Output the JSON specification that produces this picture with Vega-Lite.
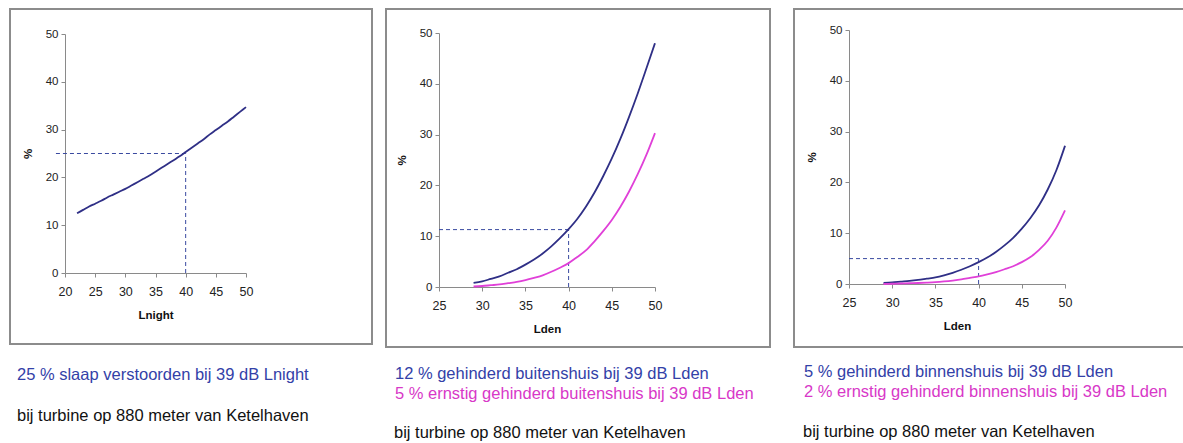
{
  "$schema": "https://vega.github.io/schema/vega-lite/v6.json",
  "padding": {"left": 9, "top": 8, "right": 0, "bottom": 0},
  "background": "white",
  "config": {
    "font": "Liberation Sans",
    "view": {"stroke": "#8c8c8c", "strokeWidth": 2},
    "axis": {"grid": false, "domainColor": "#8a8a8a", "tickColor": "#8a8a8a", "labelColor": "#222222", "titleColor": "#111111", "labelFont": "Liberation Sans", "titleFont": "Liberation Sans", "titleFontWeight": "bold", "titleFontSize": 11.5, "tickSize": 4, "labelFlush": false},
    "axisX": {"labelFontSize": 12.5, "labelPadding": 8, "titlePadding": 12},
    "axisY": {"labelFontSize": 11.5, "labelPadding": 3, "titlePadding": 12},
    "title": {"font": "Liberation Sans", "fontSize": 16.5, "fontWeight": "normal", "subtitleFont": "Liberation Sans", "subtitleFontSize": 16.5, "orient": "bottom", "anchor": "start"}
  },
  "datasets": {
    "p1": [
      {"x": 22, "y": 12.5, "s": "a"}, {"x": 23, "y": 13.2, "s": "a"}, {"x": 24, "y": 13.9, "s": "a"}, {"x": 25, "y": 14.5, "s": "a"}, {"x": 26, "y": 15.1, "s": "a"}, {"x": 27, "y": 15.8, "s": "a"}, {"x": 28, "y": 16.4, "s": "a"}, {"x": 29, "y": 17.0, "s": "a"}, {"x": 30, "y": 17.6, "s": "a"}, {"x": 31, "y": 18.3, "s": "a"}, {"x": 32, "y": 19.0, "s": "a"}, {"x": 33, "y": 19.7, "s": "a"}, {"x": 34, "y": 20.4, "s": "a"}, {"x": 35, "y": 21.2, "s": "a"}, {"x": 36, "y": 22.0, "s": "a"}, {"x": 37, "y": 22.8, "s": "a"}, {"x": 38, "y": 23.6, "s": "a"}, {"x": 39, "y": 24.4, "s": "a"}, {"x": 40, "y": 25.3, "s": "a"}, {"x": 41, "y": 26.2, "s": "a"}, {"x": 42, "y": 27.1, "s": "a"}, {"x": 43, "y": 28.0, "s": "a"}, {"x": 44, "y": 29.0, "s": "a"}, {"x": 45, "y": 29.9, "s": "a"}, {"x": 46, "y": 30.8, "s": "a"}, {"x": 47, "y": 31.7, "s": "a"}, {"x": 48, "y": 32.7, "s": "a"}, {"x": 49, "y": 33.7, "s": "a"}, {"x": 50, "y": 34.7, "s": "a"}
    ],
    "p2": [
      {"x": 29, "y": 0.8, "s": "a"}, {"x": 30, "y": 1.1, "s": "a"}, {"x": 31, "y": 1.6, "s": "a"}, {"x": 32, "y": 2.1, "s": "a"}, {"x": 33, "y": 2.8, "s": "a"}, {"x": 34, "y": 3.5, "s": "a"}, {"x": 35, "y": 4.4, "s": "a"}, {"x": 36, "y": 5.4, "s": "a"}, {"x": 37, "y": 6.6, "s": "a"}, {"x": 38, "y": 8.0, "s": "a"}, {"x": 39, "y": 9.6, "s": "a"}, {"x": 40, "y": 11.4, "s": "a"}, {"x": 41, "y": 13.4, "s": "a"}, {"x": 42, "y": 15.8, "s": "a"}, {"x": 43, "y": 18.6, "s": "a"}, {"x": 44, "y": 21.8, "s": "a"}, {"x": 45, "y": 25.3, "s": "a"}, {"x": 46, "y": 29.2, "s": "a"}, {"x": 47, "y": 33.5, "s": "a"}, {"x": 48, "y": 38.1, "s": "a"}, {"x": 49, "y": 43.0, "s": "a"}, {"x": 50, "y": 48.0, "s": "a"},
      {"x": 29, "y": 0.1, "s": "b"}, {"x": 30, "y": 0.2, "s": "b"}, {"x": 31, "y": 0.35, "s": "b"}, {"x": 32, "y": 0.5, "s": "b"}, {"x": 33, "y": 0.75, "s": "b"}, {"x": 34, "y": 1.0, "s": "b"}, {"x": 35, "y": 1.35, "s": "b"}, {"x": 36, "y": 1.8, "s": "b"}, {"x": 37, "y": 2.3, "s": "b"}, {"x": 38, "y": 3.0, "s": "b"}, {"x": 39, "y": 3.8, "s": "b"}, {"x": 40, "y": 4.7, "s": "b"}, {"x": 41, "y": 5.9, "s": "b"}, {"x": 42, "y": 7.2, "s": "b"}, {"x": 43, "y": 9.0, "s": "b"}, {"x": 44, "y": 11.0, "s": "b"}, {"x": 45, "y": 13.2, "s": "b"}, {"x": 46, "y": 15.8, "s": "b"}, {"x": 47, "y": 18.8, "s": "b"}, {"x": 48, "y": 22.2, "s": "b"}, {"x": 49, "y": 26.0, "s": "b"}, {"x": 50, "y": 30.3, "s": "b"}
    ],
    "p3": [
      {"x": 29, "y": 0.2, "s": "a"}, {"x": 30, "y": 0.3, "s": "a"}, {"x": 31, "y": 0.45, "s": "a"}, {"x": 32, "y": 0.6, "s": "a"}, {"x": 33, "y": 0.8, "s": "a"}, {"x": 34, "y": 1.05, "s": "a"}, {"x": 35, "y": 1.3, "s": "a"}, {"x": 36, "y": 1.7, "s": "a"}, {"x": 37, "y": 2.2, "s": "a"}, {"x": 38, "y": 2.8, "s": "a"}, {"x": 39, "y": 3.5, "s": "a"}, {"x": 40, "y": 4.3, "s": "a"}, {"x": 41, "y": 5.2, "s": "a"}, {"x": 42, "y": 6.3, "s": "a"}, {"x": 43, "y": 7.6, "s": "a"}, {"x": 44, "y": 9.1, "s": "a"}, {"x": 45, "y": 10.9, "s": "a"}, {"x": 46, "y": 13.0, "s": "a"}, {"x": 47, "y": 15.5, "s": "a"}, {"x": 48, "y": 18.6, "s": "a"}, {"x": 49, "y": 22.4, "s": "a"}, {"x": 50, "y": 27.2, "s": "a"},
      {"x": 29, "y": 0.0, "s": "b"}, {"x": 30, "y": 0.05, "s": "b"}, {"x": 31, "y": 0.1, "s": "b"}, {"x": 32, "y": 0.15, "s": "b"}, {"x": 33, "y": 0.2, "s": "b"}, {"x": 34, "y": 0.27, "s": "b"}, {"x": 35, "y": 0.36, "s": "b"}, {"x": 36, "y": 0.5, "s": "b"}, {"x": 37, "y": 0.68, "s": "b"}, {"x": 38, "y": 0.9, "s": "b"}, {"x": 39, "y": 1.2, "s": "b"}, {"x": 40, "y": 1.5, "s": "b"}, {"x": 41, "y": 1.9, "s": "b"}, {"x": 42, "y": 2.35, "s": "b"}, {"x": 43, "y": 2.9, "s": "b"}, {"x": 44, "y": 3.5, "s": "b"}, {"x": 45, "y": 4.3, "s": "b"}, {"x": 46, "y": 5.3, "s": "b"}, {"x": 47, "y": 6.7, "s": "b"}, {"x": 48, "y": 8.5, "s": "b"}, {"x": 49, "y": 11.1, "s": "b"}, {"x": 50, "y": 14.5, "s": "b"}
    ],
    "g1": [{"x": 18.5, "x2": 40, "y": 25, "y2": 25}, {"x": 40, "x2": 40, "y": 0, "y2": 25}],
    "g2": [{"x": 25, "x2": 40, "y": 11.3, "y2": 11.3}, {"x": 40, "x2": 40, "y": 0, "y2": 11.3}],
    "g3": [{"x": 25, "x2": 40, "y": 5, "y2": 5}, {"x": 40, "x2": 40, "y": 0, "y2": 5}]
  },
  "spacing": 22,
  "resolve": {"scale": {"x": "independent", "y": "independent", "color": "independent"}},
  "hconcat": [
    {
      "spacing": 12,
      "resolve": {"scale": {"x": "independent", "y": "independent", "color": "independent"}},
      "hconcat": [
        {
          "width": 362, "height": 335,
          "title": {"text": "25 % slaap verstoorden bij 39 dB Lnight", "subtitle": "bij turbine op 880 meter van Ketelhaven", "color": "#3341a8", "subtitleColor": "#111111", "offset": 23, "subtitlePadding": 24, "dx": 7},
          "encoding": {
            "x": {"field": "x", "type": "quantitative", "title": "Lnight", "scale": {"domain": [20, 50], "range": [55, 236], "nice": false, "zero": false}, "axis": {"values": [20, 25, 30, 35, 40, 45, 50], "offset": -71}},
            "y": {"field": "y", "type": "quantitative", "title": "%", "scale": {"domain": [0, 50], "range": [264, 25], "nice": false}, "axis": {"values": [0, 10, 20, 30, 40, 50], "offset": -55}}
          },
          "layer": [
            {"data": {"name": "g1"}, "mark": {"type": "rule", "color": "#3a4aa0", "strokeWidth": 1, "strokeDash": [4, 3]}, "encoding": {"x2": {"field": "x2"}, "y2": {"field": "y2"}}},
            {"data": {"name": "p1"}, "mark": {"type": "line", "strokeWidth": 1.8, "interpolate": "monotone"}, "encoding": {"color": {"field": "s", "type": "nominal", "legend": null, "scale": {"domain": ["a", "b"], "range": ["#2f2f86", "#e040d8"]}}}}
          ]
        },
        {
          "title": {"text": "bij turbine op 880 meter van Ketelhaven", "color": "#111111", "offset": 22, "dx": 9},
          "vconcat": [
            {
              "width": 384, "height": 338,
              "title": {"text": "12 % gehinderd buitenshuis bij 39 dB Lden", "subtitle": "5 % ernstig gehinderd buitenshuis bij 39 dB Lden", "color": "#3341a8", "subtitleColor": "#d838c8", "offset": 19, "subtitlePadding": 3, "dx": 9},
              "encoding": {
                "x": {"field": "x", "type": "quantitative", "title": "Lden", "scale": {"domain": [25, 50], "range": [53, 269], "nice": false, "zero": false}, "axis": {"values": [25, 30, 35, 40, 45, 50], "offset": -60}},
                "y": {"field": "y", "type": "quantitative", "title": "%", "scale": {"domain": [0, 50], "range": [278, 24], "nice": false}, "axis": {"values": [0, 10, 20, 30, 40, 50], "offset": -53}}
              },
              "layer": [
                {"data": {"name": "g2"}, "mark": {"type": "rule", "color": "#3a4aa0", "strokeWidth": 1, "strokeDash": [4, 3]}, "encoding": {"x2": {"field": "x2"}, "y2": {"field": "y2"}}},
                {"data": {"name": "p2"}, "mark": {"type": "line", "strokeWidth": 1.8, "interpolate": "monotone"}, "encoding": {"color": {"field": "s", "type": "nominal", "legend": null, "scale": {"domain": ["a", "b"], "range": ["#2f2f86", "#e040d8"]}}}}
              ]
            }
          ]
        }
      ]
    },
    {
      "title": {"text": "bij turbine op 880 meter van Ketelhaven", "color": "#111111", "offset": 23, "dx": 10},
      "vconcat": [
        {
          "width": 400, "height": 338,
          "title": {"text": "5 % gehinderd binnenshuis bij 39 dB Lden", "subtitle": "2 % ernstig gehinderd binnenshuis bij 39 dB Lden", "color": "#3341a8", "subtitleColor": "#d838c8", "offset": 17, "subtitlePadding": 3, "dx": 10},
          "encoding": {
            "x": {"field": "x", "type": "quantitative", "title": "Lden", "scale": {"domain": [25, 50], "range": [55, 271], "nice": false, "zero": false}, "axis": {"values": [25, 30, 35, 40, 45, 50], "offset": -63}},
            "y": {"field": "y", "type": "quantitative", "title": "%", "scale": {"domain": [0, 50], "range": [275, 21], "nice": false}, "axis": {"values": [0, 10, 20, 30, 40, 50], "offset": -55}}
          },
          "layer": [
            {"data": {"name": "g3"}, "mark": {"type": "rule", "color": "#3a4aa0", "strokeWidth": 1, "strokeDash": [4, 3]}, "encoding": {"x2": {"field": "x2"}, "y2": {"field": "y2"}}},
            {"data": {"name": "p3"}, "mark": {"type": "line", "strokeWidth": 1.8, "interpolate": "monotone"}, "encoding": {"color": {"field": "s", "type": "nominal", "legend": null, "scale": {"domain": ["a", "b"], "range": ["#2f2f86", "#e040d8"]}}}}
          ]
        }
      ]
    }
  ]
}
